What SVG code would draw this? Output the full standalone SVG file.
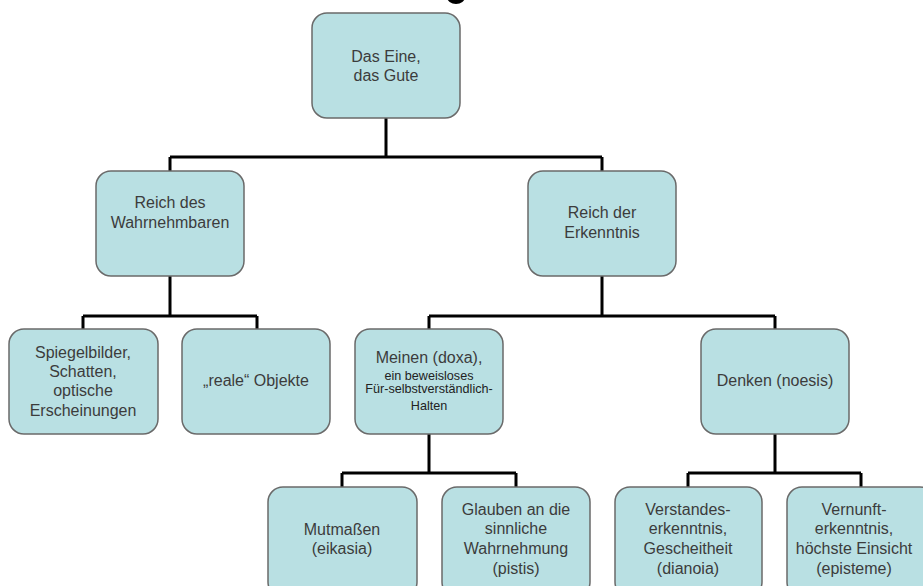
<svg xmlns="http://www.w3.org/2000/svg" width="923" height="586" viewBox="0 0 923 586">
<style>
.box{fill:#b9e0e3;stroke:#6a6a6a;stroke-width:1.5}
.t{font-family:"Liberation Sans",Arial,sans-serif;font-size:16px;fill:#3c3c3c;text-anchor:middle}
.s{font-size:12.6px;fill:#222}
.c{fill:none;stroke:#000;stroke-width:3}
</style>
<rect width="923" height="586" fill="#fff"/>
<ellipse cx="456" cy="-3" rx="9" ry="7" fill="#000"/>
<g id="connectors">
<path class="c" d="M386 118V157M170 157H602M170 157V171M602 157V171"/>
<path class="c" d="M170 276V316M83 316H257M83 316V329M257 316V329"/>
<path class="c" d="M602 276V316M429 316H775M429 316V329M775 316V329"/>
<path class="c" d="M429 434V473M342 473H516M342 473V487M516 473V487"/>
<path class="c" d="M775 434V473M688 473H861M688 473V487M861 473V487"/>
</g>
<g id="n1"><rect class="box" x="312" y="13" width="148" height="105" rx="15"/>
<text class="t" x="386"><tspan x="386" y="62">Das Eine,</tspan><tspan x="386" y="81">das Gute</tspan></text></g>
<g id="n2"><rect class="box" x="96" y="171" width="148" height="105" rx="15"/>
<text class="t"><tspan x="170" y="208">Reich des</tspan><tspan x="170" y="228">Wahrnehmbaren</tspan></text></g>
<g id="n3"><rect class="box" x="528" y="171" width="148" height="105" rx="15"/>
<text class="t"><tspan x="602" y="218">Reich der</tspan><tspan x="602" y="238">Erkenntnis</tspan></text></g>
<g id="n4"><rect class="box" x="9" y="329" width="149" height="105" rx="15"/>
<text class="t"><tspan x="83" y="358">Spiegelbilder,</tspan><tspan x="83" y="377">Schatten,</tspan><tspan x="83" y="396">optische</tspan><tspan x="83" y="416">Erscheinungen</tspan></text></g>
<g id="n5"><rect class="box" x="182" y="329" width="148" height="105" rx="15"/>
<text class="t" x="256" y="386">„reale“ Objekte</text></g>
<g id="n6"><rect class="box" x="355" y="329" width="148" height="105" rx="15"/>
<text class="t"><tspan x="429" y="363">Meinen (doxa),</tspan><tspan class="s" x="429" y="380">ein beweisloses</tspan><tspan class="s" x="429" y="393">Für-selbstverständlich-</tspan><tspan class="s" x="429" y="410">Halten</tspan></text></g>
<g id="n7"><rect class="box" x="701" y="329" width="148" height="105" rx="15"/>
<text class="t" x="775" y="386">Denken (noesis)</text></g>
<g id="n8"><rect class="box" x="268" y="487" width="149" height="110" rx="15"/>
<text class="t"><tspan x="342" y="535">Mutmaßen</tspan><tspan x="342" y="554">(eikasia)</tspan></text></g>
<g id="n9"><rect class="box" x="442" y="487" width="148" height="110" rx="15"/>
<text class="t"><tspan x="516" y="515">Glauben an die</tspan><tspan x="516" y="534">sinnliche</tspan><tspan x="516" y="554">Wahrnehmung</tspan><tspan x="516" y="574">(pistis)</tspan></text></g>
<g id="n10"><rect class="box" x="615" y="487" width="147" height="110" rx="15"/>
<text class="t"><tspan x="688" y="515">Verstandes-</tspan><tspan x="688" y="534">erkenntnis,</tspan><tspan x="688" y="554">Gescheitheit</tspan><tspan x="688" y="574">(dianoia)</tspan></text></g>
<g id="n11"><rect class="box" x="787" y="487" width="148" height="110" rx="15"/>
<text class="t"><tspan x="854" y="515">Vernunft-</tspan><tspan x="854" y="534">erkenntnis,</tspan><tspan x="854" y="554">höchste Einsicht</tspan><tspan x="854" y="574">(episteme)</tspan></text></g>
</svg>
